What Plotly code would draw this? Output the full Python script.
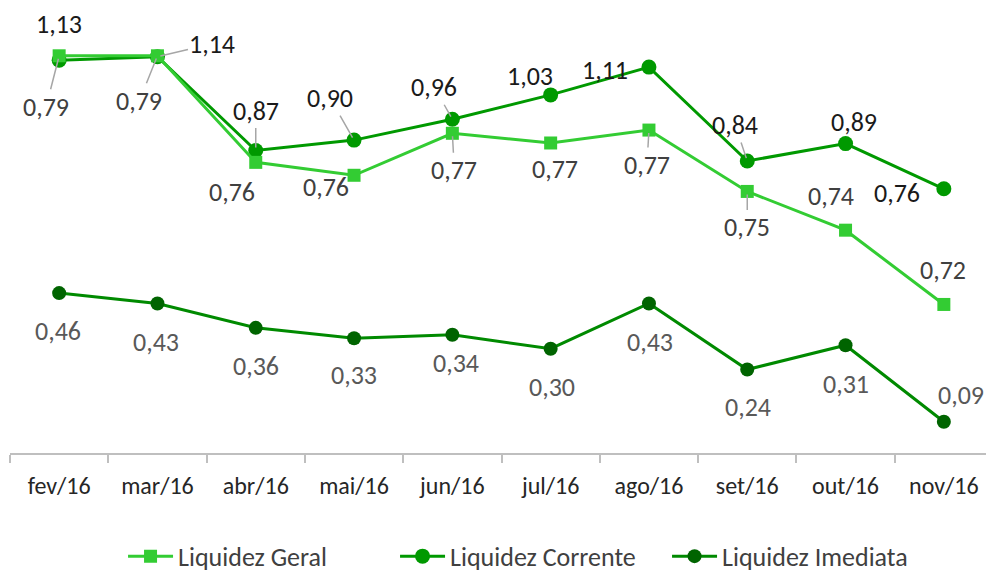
import plotly.graph_objects as go

months = ["fev/16", "mar/16", "abr/16", "mai/16", "jun/16", "jul/16",
          "ago/16", "set/16", "out/16", "nov/16"]
liq_geral = [0.793, 0.793, 0.760, 0.756, 0.769, 0.766, 0.770, 0.751, 0.739, 0.716]
liq_corrente = [1.13, 1.14, 0.87, 0.90, 0.96, 1.03, 1.11, 0.84, 0.89, 0.76]
liq_imediata = [0.46, 0.43, 0.36, 0.33, 0.34, 0.30, 0.43, 0.24, 0.31, 0.09]

# label offsets (px) and leader flags — style only
off_geral = [(-13, 51, 1), (-18, 45, 1), (-24, 30, 0), (-28, 12, 0), (2, 37, 1),
             (4, 26, 0), (-2, 35, 1), (0, 36, 1), (-15, -34, 0), (-1, -34, 0)]
off_corr = [(0, -36, 0), (55, -13, 1), (0, -40, 1), (-24, -42, 1), (-18, -32, 1),
            (-21, -19, 0), (-44, 3, 0), (-12, -36, 1), (8, -22, 0), (-47, 4, 0)]
off_imed = [(-1, 38, 0), (-1, 38, 0), (0, 38, 0), (0, 37, 0), (4, 28, 0),
            (1, 38, 0), (1, 38, 0), (1, 37, 0), (0, 39, 0), (17, -27, 0)]

C_GERAL = "#33CC33"
C_CORR = "#009900"
C_IMED_LINE = "#008A00"
C_IMED_MK = "#006400"
FONT = "Carlito, Calibri, Lato, sans-serif"

fig = go.Figure()
fig.add_trace(go.Scatter(
    x=months, y=liq_geral, name="Liquidez Geral", yaxis="y2",
    mode="lines+markers", line=dict(color=C_GERAL, width=3),
    marker=dict(symbol="square", size=13, color=C_GERAL)))
fig.add_trace(go.Scatter(
    x=months, y=liq_corrente, name="Liquidez Corrente",
    mode="lines+markers", line=dict(color=C_CORR, width=3),
    marker=dict(symbol="circle", size=15, color=C_CORR)))
fig.add_trace(go.Scatter(
    x=months, y=liq_imediata, name="Liquidez Imediata",
    mode="lines+markers", line=dict(color=C_IMED_LINE, width=3),
    marker=dict(symbol="circle", size=14, color=C_IMED_MK)))


def fmt(v):
    return f"{v:.2f}".replace(".", ",")


anns = []
for vals, offs, yref, col in [(liq_geral, off_geral, "y2", "#404040"),
                              (liq_corrente, off_corr, "y", "#1a1a1a"),
                              (liq_imediata, off_imed, "y", "#595959")]:
    for m, v, (ax, ay, lead) in zip(months, vals, offs):
        anns.append(dict(
            x=m, y=v, xref="x", yref=yref, text=fmt(v),
            showarrow=True, ax=ax, ay=ay, arrowhead=0, arrowwidth=1.5,
            standoff=3,
            arrowcolor="#A6A6A6" if lead else "rgba(0,0,0,0)",
            font=dict(family=FONT, size=26, color=col)))

fig.update_layout(
    width=986, height=568,
    margin=dict(l=2, r=1, t=0, b=123, autoexpand=False),
    paper_bgcolor="white", plot_bgcolor="white",
    font=dict(family=FONT, size=24, color="#404040"),
    xaxis=dict(type="category", range=[-0.5, 9.5], autorange=False,
               showgrid=False, showline=True,
               linecolor="#BFBFBF", linewidth=2, ticks="outside",
               tickson="boundaries", ticklen=8, tickcolor="#BFBFBF",
               tickwidth=2, ticklabelstandoff=10, automargin=False,
               tickfont=dict(family=FONT, size=24, color="#262626")),
    yaxis=dict(range=[0, 1.28], visible=False, automargin=False),
    yaxis2=dict(range=[0.67, 0.8078], overlaying="y", visible=False,
                automargin=False),
    legend=dict(orientation="h", x=0.115, xanchor="left", y=-0.232,
                yanchor="middle", font=dict(family=FONT, size=26, color="#404040"),
                itemwidth=45, entrywidth=212, entrywidthmode="pixels"),
    annotations=anns,
    showlegend=True,
)

fig.write_html("out.html")
